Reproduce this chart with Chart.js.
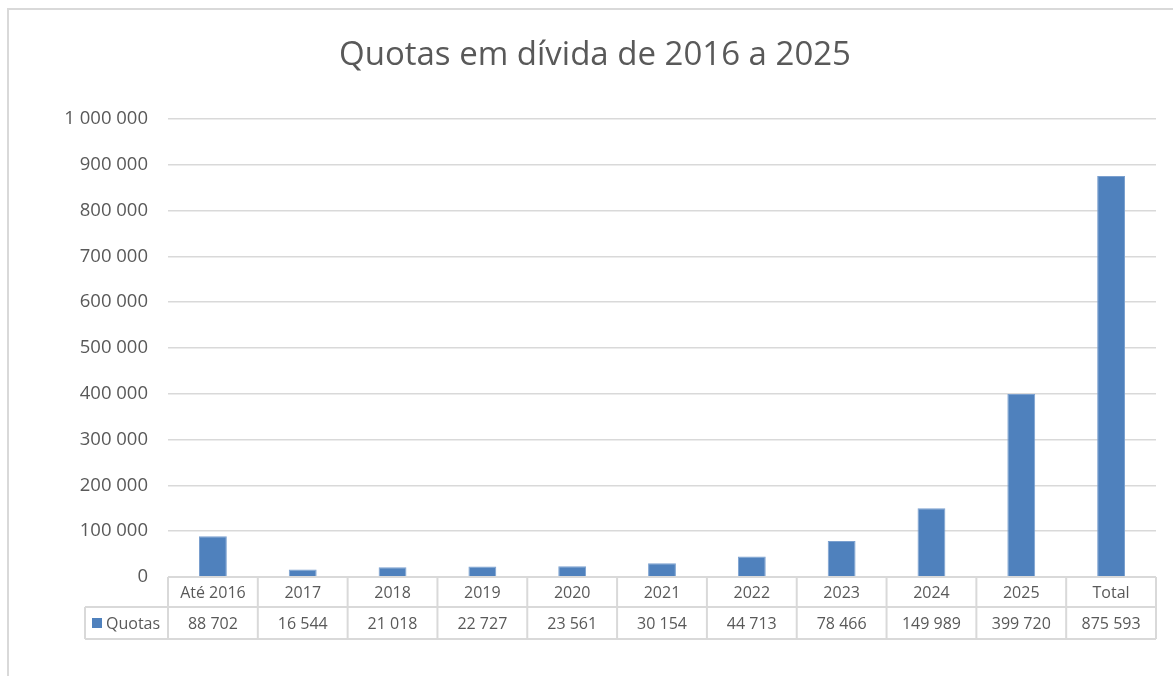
<!DOCTYPE html>
<html>
<head>
<meta charset="utf-8">
<script src="https://cdn.jsdelivr.net/npm/chart.js@4/dist/chart.umd.min.js"></script>
<style>
  html, body { margin: 0; padding: 0; background: #fff; overflow: hidden; }
  canvas { display: block; }
</style>
</head>
<body>
<canvas id="quotas" width="1173" height="676"></canvas>
<script>
const categories = ['Até 2016', '2017', '2018', '2019', '2020', '2021', '2022', '2023', '2024', '2025', 'Total'];
const quotas = [88702, 16544, 21018, 22727, 23561, 30154, 44713, 78466, 149989, 399720, 875593];
const seriesName = 'Quotas';
const chartTitle = 'Quotas em dívida de 2016 a 2025';

const FONT = '"Open Sans", Lato, sans-serif';
const GREY = '#d9d9d9';
const TEXT = '#595959';

// numbers with a space as thousands separator
function fmt(v){
    return String(Math.round(v)).replace(/\B(?=(\d{3})+(?!\d))/g, ' ');
}

// frame, title and the data table under the bars
const excelBits = {
    id: 'excelBits',
    afterDraw(chart){
        const ctx = chart.ctx;
        const x = chart.scales.x;
        const area = chart.chartArea;
        const n = categories.length;
        const w = (area.right - area.left) / n;
        const top = area.bottom;
        const mid = top + 30;
        const bot = mid + 32;
        const legLeft = 85;

        ctx.save();
        // outer frame
        ctx.strokeStyle = GREY;
        ctx.lineWidth = 2;
        ctx.strokeRect(8, 9, 1300, 800);

        // title
        ctx.fillStyle = TEXT;
        ctx.font = '33px ' + FONT;
        ctx.textAlign = 'center';
        ctx.textBaseline = 'alphabetic';
        ctx.fillText(chartTitle, 595, 65);

        // table grid
        ctx.lineWidth = 2;
        ctx.strokeStyle = GREY;
        ctx.beginPath();
        ctx.moveTo(area.left, top); ctx.lineTo(area.right, top);
        ctx.moveTo(legLeft, mid); ctx.lineTo(area.right, mid);
        ctx.moveTo(legLeft, bot); ctx.lineTo(area.right, bot);
        ctx.moveTo(legLeft, mid); ctx.lineTo(legLeft, bot);
        for (let i = 0; i <= n; i++) {
            const bx = area.left + i * w;
            ctx.moveTo(bx, top); ctx.lineTo(bx, bot);
        }
        ctx.stroke();

        // table text
        ctx.font = '16px ' + FONT;
        ctx.fillStyle = TEXT;
        ctx.textAlign = 'center';
        ctx.textBaseline = 'middle';
        categories.forEach((c, i) => {
            const cx = x.getPixelForValue(i);
            ctx.fillText(c, cx, (top + mid) / 2 + 1);
            ctx.fillText(fmt(quotas[i]), cx, (mid + bot) / 2 + 1);
        });

        // legend key in the table
        ctx.fillStyle = '#4f81bd';
        ctx.fillRect(92, 618, 10, 10);
        ctx.fillStyle = TEXT;
        ctx.textAlign = 'left';
        ctx.fillText(seriesName, 106, (mid + bot) / 2 + 1);
        ctx.restore();
    }
};

new Chart(document.getElementById('quotas'), {
    type: 'bar',
    data: {
        labels: categories,
        datasets: [{
            label: seriesName,
            data: quotas,
            backgroundColor: '#4f81bd',
            borderColor: '#7ba0cf',
            borderWidth: 1,
            barPercentage: 0.31,
            categoryPercentage: 1
        }]
    },
    options: {
        responsive: false,
        animation: false,
        devicePixelRatio: 1,
        layout: { padding: { left: 0, right: 17, top: 119, bottom: 99 } },
        plugins: {
            legend: { display: false },
            title: { display: false },
            tooltip: { enabled: false }
        },
        scales: {
            x: { display: false },
            y: {
                min: 0,
                max: 1000000,
                afterFit: (s) => { s.width = 168; },
                border: { display: false },
                grid: { color: GREY, lineWidth: 1.5, drawTicks: false },
                ticks: {
                    stepSize: 100000,
                    padding: 20,
                    color: TEXT,
                    font: { family: FONT, size: 18.5 },
                    callback: (v) => fmt(v)
                }
            }
        }
    },
    plugins: [excelBits]
});
</script>
</body>
</html>
